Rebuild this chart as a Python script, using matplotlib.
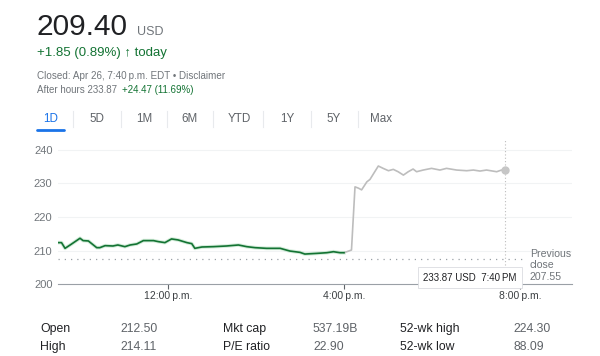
import matplotlib
matplotlib.use("Agg")
import matplotlib.pyplot as plt

plt.rcParams['font.family'] = ['Liberation Sans', 'DejaVu Sans']

W, H = 600, 356

# regular session (decimal hours, price)
day_times = [9.50, 9.58, 9.66, 9.81, 10.00, 10.07, 10.19, 10.38, 10.45, 10.57,
             10.75, 10.86, 11.02, 11.14, 11.29, 11.44, 11.67, 11.78, 11.93, 12.08,
             12.23, 12.43, 12.54, 12.61, 12.77, 13.03, 13.33, 13.60, 13.79, 13.98,
             14.24, 14.55, 14.77, 15.00, 15.11, 15.38, 15.61, 15.76, 15.91, 16.00]
day_prices = [212.4, 212.4, 210.7, 212.0, 213.7, 213.0, 212.9, 210.9, 210.9, 211.5,
              211.4, 211.7, 211.2, 211.7, 212.0, 213.0, 213.0, 212.7, 212.4, 213.5,
              213.2, 212.4, 212.1, 210.7, 211.1, 211.2, 211.4, 211.7, 211.2, 210.9,
              210.7, 210.7, 209.9, 209.5, 209.0, 209.2, 209.4, 209.7, 209.4, 209.4]

# after hours
ah_times = [16.00, 16.17, 16.25, 16.33, 16.40, 16.52, 16.59, 16.78, 16.89, 17.01,
            17.12, 17.23, 17.35, 17.46, 17.57, 17.65, 17.80, 17.99, 18.18, 18.33,
            18.56, 18.79, 18.94, 19.09, 19.24, 19.47, 19.58, 19.67]
ah_prices = [209.4, 210.2, 229.0, 228.6, 228.1, 230.5, 231.2, 235.2, 234.5, 233.8,
             234.2, 233.5, 232.5, 233.5, 234.3, 233.5, 234.0, 234.5, 234.0, 234.5,
             234.0, 233.8, 234.0, 233.7, 234.0, 233.5, 234.0, 233.87]

prev_close = 207.55
y_ticks = [200, 210, 220, 230, 240]
x_ticks = [12, 16, 20]
x_labels = ["12:00\u202fp.m.", "4:00\u202fp.m.", "8:00\u202fp.m."]
tabs = ["1D", "5D", "1M", "6M", "YTD", "1Y", "5Y", "Max"]
stats_rows = [["Open", "212.50", "Mkt cap", "537.19B", "52-wk high", "224.30"],
              ["High", "214.11", "P/E ratio", "22.90", "52-wk low", "88.09"]]

GREEN = "#137333"
GRAY = "#70757a"
DARK = "#202124"


def px(x, y):
    return x / W, 1 - y / H


fig = plt.figure(figsize=(6, 3.56), dpi=100)

# header
fig.text(*px(36, 35), "209.40", fontsize=21.5, color=DARK, va="baseline")
fig.text(*px(137, 35), "USD", fontsize=9, color=GRAY, va="baseline")
fig.text(*px(37, 53), "+1.85 (0.89%) \u2191 today", fontsize=9.5, color=GREEN, va="center")
fig.text(*px(37, 76), "Closed: Apr 26, 7:40\u202fp.m. EDT \u2022 Disclaimer", fontsize=7.1,
         color=GRAY, va="center")
fig.text(*px(37, 90), "After hours 233.87", fontsize=7, color=GRAY, va="center")
fig.text(*px(122, 90), "+24.47 (11.69%)", fontsize=7, color=GREEN, va="center")

# range tabs
tab_x = [51, 97, 144, 190, 239, 287, 334, 381]
for i, t in enumerate(tabs):
    c = "#1a73e8" if i == 0 else "#5f6368"
    fig.text(*px(tab_x[i], 119), t, fontsize=8.4, color=c, ha="center", va="center")
for sx in [73, 121, 167, 213, 263, 311, 358]:
    fig.add_artist(plt.Line2D([sx / W, sx / W], [1 - 111 / H, 1 - 127 / H],
                              color="#e8eaed", lw=0.8))
fig.add_artist(plt.Line2D([37 / W, 64 / W], [1 - 130 / H, 1 - 130 / H],
                          color="#1a73e8", lw=2, solid_capstyle="round"))

# chart
ax = fig.add_axes([58 / W, 1 - 284.3 / H, 514 / W, 144.5 / H])
ax.set_xlim(9.5, 9.5 + 514 / 44)
ax.set_ylim(200, 243)

for v in y_ticks[1:]:
    ax.axhline(v, color="#f1f3f4", lw=0.8, zorder=0)

ax.plot(day_times, day_prices, color="#a8dab5", lw=2.6, alpha=0.5, zorder=2)
ax.plot(day_times, day_prices, color=GREEN, lw=1.2, zorder=3)
ax.plot(ah_times, ah_prices, color="#bdbdbd", lw=1.2, zorder=2)
ax.plot([ah_times[-1]], [ah_prices[-1]], "o", color="#c6c6c6", ms=5, zorder=4)

ax.plot([9.5, 20.1], [prev_close, prev_close], color="#9aa0a6",
        lw=0.9, ls=(0, (1, 4)), zorder=1)
ax.plot([ah_times[-1], ah_times[-1]], [205.7, 243], color="#bdbdbd",
        lw=0.8, ls=(0, (1, 2)), zorder=1)

ax.set_yticks(y_ticks)
ax.set_yticklabels([str(v) for v in y_ticks])
ax.set_xticks(x_ticks)
ax.set_xticklabels(x_labels)
ax.tick_params(axis="y", length=0, pad=4, labelsize=8, labelcolor=GRAY)
ax.tick_params(axis="x", length=3.5, width=0.8, color="#5f6368", pad=1,
               labelsize=7.5, labelcolor="#3c4043")
for s in ["top", "left", "right"]:
    ax.spines[s].set_visible(False)
ax.spines["bottom"].set_color("#9aa0a6")
ax.spines["bottom"].set_linewidth(0.8)

# tooltip box
ax.text(18.86, 202.0, "233.87 USD  7:40\u202fPM", fontsize=7, color=DARK,
        ha="center", va="center", zorder=6,
        bbox=dict(boxstyle="square,pad=0.55", fc="white", ec="#dadce0", lw=0.6))

ax.text(20.22, 205.6, "Previous\nclose\n207.55", fontsize=7.6, color=GRAY,
        ha="left", va="center", linespacing=1.2)

# stats table
col_x = [40, 120, 223, 313, 400, 513]
row_y = [329, 347]
for r, row in enumerate(stats_rows):
    for c, val in enumerate(row):
        col = DARK if c % 2 == 0 else "#5f6368"
        fig.text(*px(col_x[c], row_y[r]), val, fontsize=8.8, color=col, va="center")

fig.savefig("out.png", dpi=100)
